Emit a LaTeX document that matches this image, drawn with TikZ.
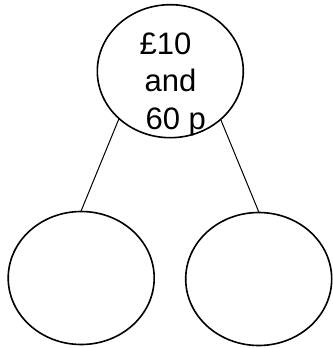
\documentclass[tikz,border=0pt]{standalone}
\usepackage{fontspec}
\setmainfont{Liberation Sans}
\usetikzlibrary{shapes.geometric}
\begin{document}
\begin{tikzpicture}[x=1pt,y=-1pt,
  bubble/.style={draw=black, line width=1.6pt, ellipse, inner sep=0pt,
    minimum width=146pt, minimum height=133pt},
  link/.style={draw=black, line width=1pt},
  txt/.style={anchor=base west, inner sep=0pt, font=\fontsize{31}{37}\selectfont}]
\useasboundingbox (0,0) rectangle (332,348);
\node[bubble] (top) at (170.3,71.2) {};
\node[bubble] (left) at (81.2,278) {};
\node[bubble] (right) at (258.7,279) {};
\draw[link] (top.223) -- (left.north);
\draw[link] (top.316) -- (right.north);
\node[txt] (t1) at (139.4,54.7) {£10};
\node[txt] (t2) at (144.5,91.3) {and};
\node[txt] (t3) at (145.4,129.7) {60 p};
\end{tikzpicture}
\end{document}
